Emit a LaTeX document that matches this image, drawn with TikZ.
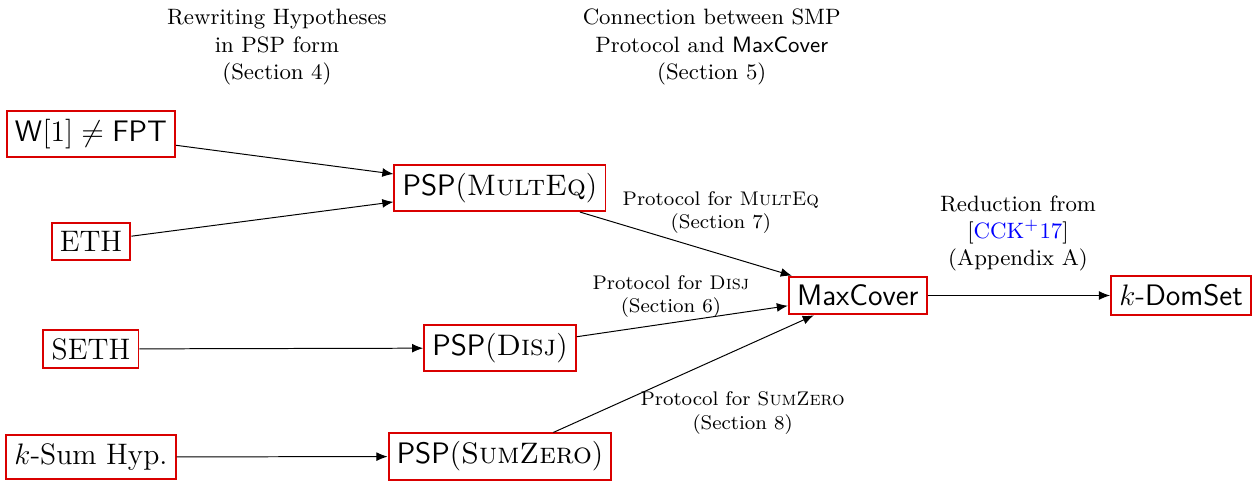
\documentclass[tikz,border=0pt]{standalone}
\usepackage{xcolor}
\usepackage{amsmath,amssymb}
\usepackage{tikz}
\usetikzlibrary{arrows.meta}

\begin{document}
\begin{tikzpicture}[>={Latex[length=4.5pt,width=3.6pt]},
                    box/.style={draw=red!85!black, thick, font=\large},
                    lbl/.style={font=\footnotesize, align=center},
                    hdr/.style={font=\small, align=center}]
                    \useasboundingbox (0,0) rectangle (17.82,6.86);

                    \node[box] (w1)   at (1.295,4.952) {$\mathsf{W}[1] \neq \mathsf{FPT}$};
                    \node[box] (eth)  at (1.295,3.423) {ETH};
                    \node[box] (seth) at (1.295,1.893) {SETH};
                    \node[box] (ksum) at (1.295,0.356) {$k$-Sum Hyp.};

                    \node[box] (multeq)  at (7.116,4.184) {$\mathsf{PSP}(\textsc{MultEq})$};
                    \node[box] (disj)    at (7.116,1.907) {$\mathsf{PSP}(\textsc{Disj})$};
                    \node[box] (sumzero) at (7.116,0.363) {$\mathsf{PSP}(\textsc{SumZero})$};

                    \node[box] (maxcover) at (12.21,2.654) {\textsf{MaxCover}};
                    \node[box] (domset)   at (16.81,2.654) {$k$-\textsf{DomSet}};

                    \node[hdr] (rewrite) at (3.942,6.19) {Rewriting Hypotheses\\in PSP form\\(Section 4)};
                    \node[hdr] (connect) at (10.13,6.19) {Connection between SMP\\Protocol and \textsf{MaxCover}\\(Section 5)};

                    \draw[->] (w1) -- (multeq);
                    \draw[->] (eth) -- (multeq);
                    \draw[->] (seth) -- (disj);
                    \draw[->] (ksum) -- (sumzero);

                    \draw[->] (multeq) -- (maxcover);
                    \draw[->] (disj) -- (maxcover);
                    \draw[->] (sumzero) -- (maxcover);
                    \draw[->] (maxcover) -- (domset);

                    \node[lbl] (lmulteq)  at (10.26,3.835) {Protocol for \textsc{MultEq}\\(Section 7)};
                    \node[lbl] (ldisj)    at (9.549,2.640) {Protocol for \textsc{Disj}\\(Section 6)};
                    \node[lbl] (lsumzero) at (10.57,0.982) {Protocol for \textsc{SumZero}\\(Section 8)};
                    \node[hdr] (lreduce)  at (14.49,3.536) {Reduction from\\{[\textcolor{blue}{CCK$^+$17}]}\\(Appendix A)};
                \end{tikzpicture}
\end{document}
